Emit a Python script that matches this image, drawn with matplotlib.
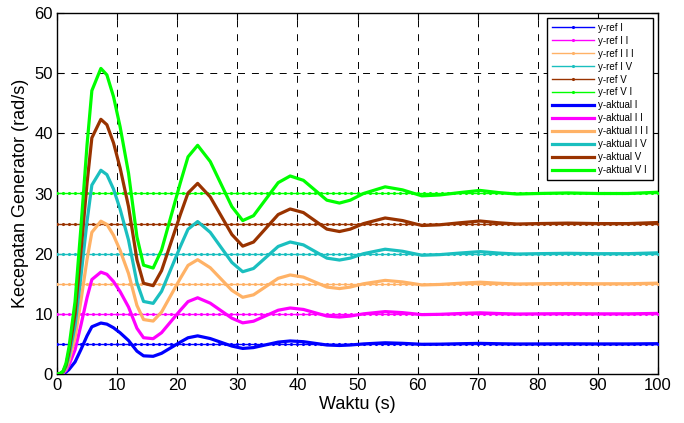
import numpy as np
import matplotlib
matplotlib.use("Agg")
import matplotlib.pyplot as plt

plt.rcParams['font.family'] = ['Liberation Sans', 'DejaVu Sans']
plt.rcParams['lines.scale_dashes'] = False

# time samples of the actual responses (s)
t_aktual = [0, 0.5, 1, 1.5, 2, 3, 4, 5, 5.8, 7.3, 8.3, 9.4, 10.5, 11.9, 13.3, 14.4,
            16.0, 17.4, 20.5, 21.8, 23.4, 25.5, 29.1, 30.9, 32.7, 36.8, 38.8, 41.0,
            44.9, 47.0, 48.8, 51.0, 54.6, 57.5, 60.7, 63.7, 67.0, 70.4, 73.5, 76.5,
            80, 85, 90, 95, 100]

y_aktual_I = [0, 0.015, 0.075, 0.3, 0.75, 2.0, 4.1, 6.35, 7.85, 8.47, 8.29, 7.69, 6.85,
              5.57, 3.8, 3.02, 2.94, 3.44, 5.29, 6.02, 6.34, 5.89, 4.64, 4.25, 4.39, 5.3,
              5.49, 5.37, 4.82, 4.74, 4.82, 5.0, 5.19, 5.1, 4.94, 4.96, 5.03, 5.09, 5.03,
              4.99, 5.0, 5.02, 5.0, 5.0, 5.04]
y_aktual_II = [0, 0.03, 0.15, 0.6, 1.5, 4.0, 8.2, 12.7, 15.7, 16.93, 16.57, 15.37, 13.7,
               11.13, 7.6, 6.03, 5.87, 6.87, 10.57, 12.03, 12.67, 11.77, 9.27, 8.5, 8.77,
               10.6, 10.97, 10.73, 9.63, 9.47, 9.63, 10.0, 10.37, 10.2, 9.87, 9.92, 10.05,
               10.17, 10.05, 9.97, 10.0, 10.03, 10.0, 10.0, 10.07]
y_aktual_III = [0, 0.045, 0.225, 0.9, 2.25, 6.0, 12.3, 19.05, 23.55, 25.4, 24.86, 23.06,
                20.55, 16.7, 11.4, 9.05, 8.8, 10.3, 15.86, 18.05, 19.0, 17.66, 13.9, 12.75,
                13.16, 15.9, 16.46, 16.1, 14.45, 14.2, 14.45, 15.0, 15.56, 15.3, 14.8,
                14.88, 15.08, 15.26, 15.08, 14.96, 15.0, 15.05, 15.0, 15.0, 15.1]
y_aktual_IV = [0, 0.06, 0.3, 1.2, 3.0, 8.0, 16.4, 25.4, 31.4, 33.86, 33.14, 30.74, 27.4,
               22.26, 15.2, 12.06, 11.74, 13.74, 21.14, 24.06, 25.34, 23.54, 18.54, 17.0,
               17.54, 21.2, 21.94, 21.46, 19.26, 18.94, 19.26, 20.0, 20.74, 20.4, 19.74,
               19.84, 20.1, 20.34, 20.1, 19.94, 20.0, 20.06, 20.0, 20.0, 20.14]
y_aktual_V = [0, 0.075, 0.375, 1.5, 3.75, 10.0, 20.5, 31.75, 39.25, 42.33, 41.43, 38.43,
              34.25, 27.83, 19.0, 15.08, 14.68, 17.18, 26.43, 30.08, 31.68, 29.43, 23.18,
              21.25, 21.93, 26.5, 27.43, 26.83, 24.08, 23.68, 24.08, 25.0, 25.93, 25.5,
              24.68, 24.8, 25.13, 25.43, 25.13, 24.93, 25.0, 25.08, 25.0, 25.0, 25.18]
y_aktual_VI = [0, 0.09, 0.45, 1.8, 4.5, 12.0, 24.6, 38.1, 47.1, 50.79, 49.71, 46.11, 41.1,
               33.39, 22.8, 18.09, 17.61, 20.61, 31.71, 36.09, 38.01, 35.31, 27.81, 25.5,
               26.31, 31.8, 32.91, 32.19, 28.89, 28.41, 28.89, 30.0, 31.11, 30.6, 29.61,
               29.76, 30.15, 30.51, 30.15, 29.91, 30.0, 30.09, 30.0, 30.0, 30.21]

# reference setpoints
ref_values = [5, 10, 15, 20, 25, 30]
t_ref = np.arange(0, 101, 1)

ref_labels = ['y-ref ' + r for r in ['I', 'I I', 'I I I', 'I V', 'V', 'V I']]
akt_labels = ['y-aktual ' + r for r in ['I', 'I I', 'I I I', 'I V', 'V', 'V I']]
colors = ['#0000FF', '#FF00FF', '#FFB266', '#1ABFBF', '#993300', '#00FF00']
aktual = [y_aktual_I, y_aktual_II, y_aktual_III, y_aktual_IV, y_aktual_V, y_aktual_VI]

fig = plt.figure(figsize=(6.84, 4.23), dpi=100)
ax = fig.add_axes([57/684, 1-374/423, 601/684, 361/423])

for v, c, lab in zip(ref_values, colors, ref_labels):
    ax.plot(t_ref, np.full(len(t_ref), v), color=c, lw=1.0, marker='.', ms=2.5,
            label=lab, zorder=3)
for y, c, lab in zip(aktual, colors, akt_labels):
    ax.plot(t_aktual, y, color=c, lw=2.3, label=lab, zorder=4)

ax.set_xlim(0, 100)
ax.set_ylim(0, 60)
ax.set_xticks(np.arange(0, 101, 10))
ax.set_yticks(np.arange(0, 61, 10))
ax.grid(True, color='black', linestyle=(0, (5, 5)), linewidth=0.7)
ax.set_axisbelow(True)
ax.tick_params(direction='in', top=True, right=True, length=5, labelsize=12, pad=3)
for s in ax.spines.values():
    s.set_linewidth(1.0)
    s.set_color('black')

ax.set_xlabel('Waktu (s)', fontsize=13, labelpad=2)
ax.set_ylabel('Kecepatan Generator (rad/s)', fontsize=13, labelpad=4)

leg = ax.legend(loc='upper right', bbox_to_anchor=(596/601, 356/361), borderaxespad=0,
                fontsize=7, handlelength=4.3, labelspacing=0.3, handletextpad=0.4,
                borderpad=0.5, fancybox=False, framealpha=1, edgecolor='black')
leg.get_frame().set_linewidth(1.0)

fig.savefig('out.png', dpi=100)
